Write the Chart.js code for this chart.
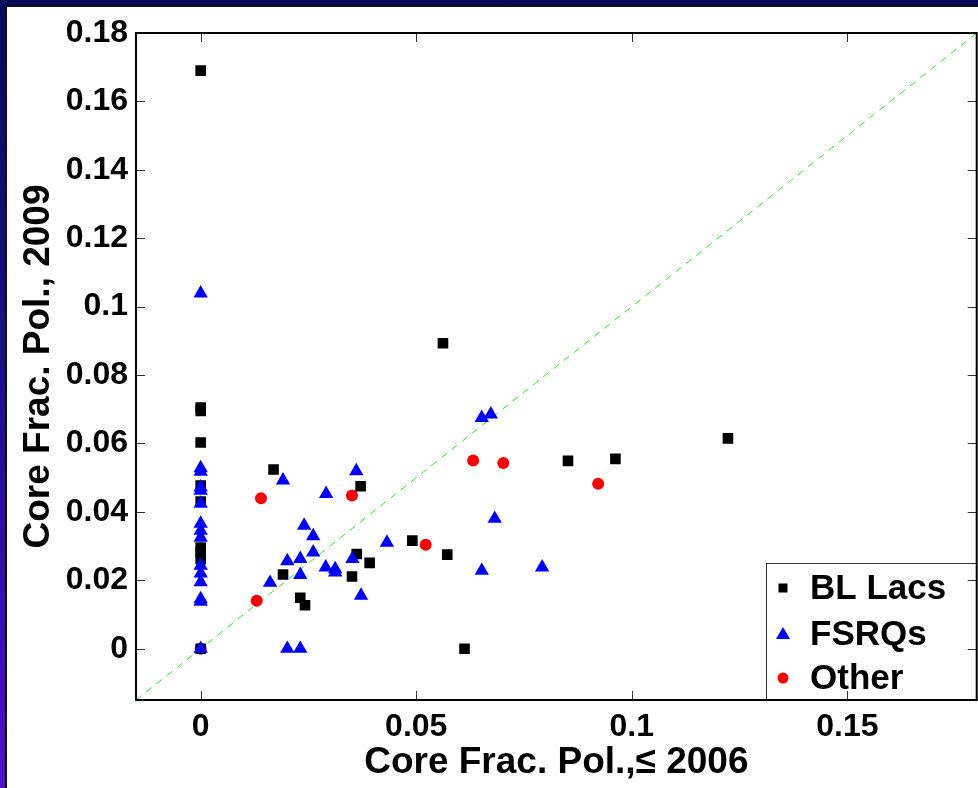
<!DOCTYPE html>
<html>
<head>
<meta charset="utf-8">
<script src="https://cdn.jsdelivr.net/npm/chart.js@4/dist/chart.umd.min.js"></script>
<style>
  html, body { margin:0; padding:0; width:978px; height:788px; overflow:hidden; }
  #bg { position:absolute; left:0; top:0; width:978px; height:788px;
        background: linear-gradient(to bottom, #070b5c 0%, #1a0e8a 45%, #3a10c0 85%, #5210c8 100%); }
  #white { position:absolute; left:5px; top:5px; width:980px; height:790px; background:#fff;
           border-left:2px solid #111; border-top:2px solid #111; }
  #wrap { position:absolute; left:0; top:0; width:985px; height:788px; }
</style>
</head>
<body>
<div id="bg"></div>
<div id="white"></div>
<div id="wrap"><canvas id="c"></canvas></div>
<script>
// ---- data ----
const seriesNames = ['BL Lacs', 'FSRQs', 'Other'];

const blLacsX = [0, 0, 0, 0, 0, 0, 0, 0, 0, 0,
  0.0169, 0.0191, 0.0231, 0.0242, 0.0351, 0.0362, 0.0371, 0.0392, 0.0491, 0.0562,
  0.0572, 0.0612, 0.0852, 0.0962, 0.1223];
const blLacsY = [0.169, 0.0705, 0.0695, 0.0603, 0.0477, 0.0430, 0.0296, 0.0282, 0.0262, 0,
  0.0524, 0.0217, 0.0149, 0.0127, 0.0211, 0.0277, 0.0475, 0.0251, 0.0316, 0.0893,
  0.0275, 0, 0.0549, 0.0555, 0.0615];

const fsrqX = [0, 0, 0, 0, 0, 0, 0, 0, 0, 0, 0, 0, 0, 0, 0,
  0.0161, 0.0191, 0.0201, 0.0201, 0.0231, 0.0231, 0.0231, 0.0240, 0.0261, 0.0261,
  0.0290, 0.0291, 0.0312, 0.0312, 0.0352, 0.0361, 0.0372, 0.0432, 0.0652, 0.0673,
  0.0652, 0.0682, 0.0792];
const fsrqY = [0.1039, 0.0528, 0.0518, 0.0472, 0.0462, 0.0424, 0.0366, 0.0345, 0.0325, 0.0243,
  0.0220, 0.0195, 0.0145, 0.0138, 0,
  0.0193, 0.0492, 0.0256, 0, 0.0263, 0.0216, 0, 0.0360, 0.0329, 0.0282,
  0.0238, 0.0453, 0.0233, 0.0223, 0.0263, 0.0519, 0.0155, 0.0310, 0.0675, 0.0685,
  0.0228, 0.0380, 0.0238];

const otherX = [0, 0.0130, 0.0140, 0.0351, 0.0522, 0.0632, 0.0702, 0.0922];
const otherY = [0, 0.0140, 0.0440, 0.0448, 0.0304, 0.0550, 0.0543, 0.0482];

// y = x reference line
const diagX = [-0.015, 0.18];
const diagY = [-0.015, 0.18];

const xTicks = [0, 0.05, 0.1, 0.15];
const xTickLabels = ['0', '0.05', '0.1', '0.15'];
const yTicks = [0, 0.02, 0.04, 0.06, 0.08, 0.1, 0.12, 0.14, 0.16, 0.18];
const yTickLabels = ['0', '0.02', '0.04', '0.06', '0.08', '0.1', '0.12', '0.14', '0.16', '0.18'];
const xRange = [-0.015, 0.18];
const yRange = [-0.015, 0.18];

const xTitle = 'Core Frac. Pol.,\u2264 2006';
const yTitle = 'Core Frac. Pol., 2009';

// ---- build ----
const pts = (xs, ys) => xs.map((x, i) => ({x, y: ys[i]}));
const FONT = "'Liberation Sans', Arial, sans-serif";
const colors = ['#000000', '#0000ff', '#ff0000'];
const styles = ['rect', 'triangle', 'circle'];
const radii = [7.5, 8.3, 6];

const frameAndTicks = {
  id: 'frameAndTicks',
  afterDraw(chart) {
    const {ctx, chartArea: a, scales: {x, y}} = chart;
    ctx.save();
    ctx.strokeStyle = '#333';
    ctx.lineWidth = 1;
    ctx.beginPath();
    xTicks.forEach(v => {
      const px = Math.round(x.getPixelForValue(v)) + 0.5;
      ctx.moveTo(px, a.bottom); ctx.lineTo(px, a.bottom - 9);
      ctx.moveTo(px, a.top); ctx.lineTo(px, a.top + 9);
    });
    yTicks.forEach(v => {
      const py = Math.round(y.getPixelForValue(v)) + 0.5;
      ctx.moveTo(a.left, py); ctx.lineTo(a.left + 9, py);
      ctx.moveTo(a.right, py); ctx.lineTo(a.right - 9, py);
    });
    ctx.stroke();
    ctx.strokeStyle = '#000';
    ctx.lineWidth = 2;
    ctx.strokeRect(a.left, a.top, a.right - a.left, a.bottom - a.top);
    ctx.restore();
  }
};

const boxLegend = {
  id: 'boxLegend',
  afterDatasetsDraw(chart) {
    const {ctx, chartArea: a} = chart;
    ctx.save();
    const bx = 766.5, by = 563.5;
    ctx.fillStyle = '#fff';
    ctx.fillRect(bx, by, a.right - bx + 10, a.bottom - by);
    ctx.strokeStyle = '#333';
    ctx.lineWidth = 1;
    ctx.strokeRect(bx, by, a.right - bx + 10, a.bottom - by);
    const rows = [588, 634, 678];
    ctx.font = 'bold 35px ' + FONT;
    ctx.textBaseline = 'middle';
    ctx.textAlign = 'left';
    seriesNames.forEach((name, i) => {
      const cy = rows[i], cx = 783;
      ctx.fillStyle = colors[i];
      ctx.beginPath();
      if (i === 0) {
        ctx.rect(cx - 4.5, cy - 4.5, 9, 9);
      } else if (i === 1) {
        ctx.moveTo(cx, cy - 7); ctx.lineTo(cx + 7, cy + 5); ctx.lineTo(cx - 7, cy + 5); ctx.closePath();
      } else {
        ctx.arc(cx, cy, 5.5, 0, Math.PI * 2);
      }
      ctx.fill();
      ctx.fillStyle = '#000';
      ctx.fillText(name, 810, cy + 1);
    });
    ctx.restore();
  }
};

const scatterSets = [[blLacsX, blLacsY], [fsrqX, fsrqY], [otherX, otherY]].map((d, i) => ({
  type: 'scatter',
  label: seriesNames[i],
  data: pts(d[0], d[1]),
  pointStyle: styles[i],
  pointRadius: radii[i],
  pointHoverRadius: radii[i],
  pointBackgroundColor: colors[i],
  pointBorderWidth: 0,
  order: [1, 0, 2][i]
}));

new Chart(document.getElementById('c'), {
  type: 'scatter',
  data: {
    datasets: [
      ...scatterSets,
      {
        type: 'line',
        label: 'y = x',
        data: pts(diagX, diagY),
        borderColor: '#2ee82e',
        borderWidth: 1,
        borderDash: [7, 6],
        pointRadius: 0,
        fill: false,
        order: 3
      }
    ]
  },
  options: {
    responsive: true,
    maintainAspectRatio: false,
    animation: false,
    devicePixelRatio: 1,
    layout: { padding: { left: 0, top: 33, right: 4, bottom: 0 } },
    plugins: { legend: { display: false }, tooltip: { enabled: false } },
    scales: {
      x: {
        type: 'linear',
        min: xRange[0], max: xRange[1],
        afterBuildTicks: s => { s.ticks = xTicks.map(v => ({value: v})); },
        afterFit: s => { s.height = 88; },
        grid: { display: false },
        border: { display: true, color: '#000', width: 2 },
        ticks: {
          color: '#000', padding: 0, maxRotation: 0, autoSkip: false,
          font: { family: FONT, size: 32, weight: 'bold' },
          callback: (v) => xTickLabels[xTicks.indexOf(v)]
        },
        title: {
          display: true, text: xTitle, color: '#000',
          font: { family: FONT, size: 37, weight: 'bold' },
          padding: { top: 0, bottom: 3 }
        }
      },
      y: {
        type: 'linear',
        min: yRange[0], max: yRange[1],
        afterBuildTicks: s => { s.ticks = yTicks.map(v => ({value: v})); },
        afterFit: s => { s.width = 136; },
        grid: { display: false },
        border: { display: true, color: '#000', width: 2 },
        ticks: {
          color: '#000', padding: 0, autoSkip: false,
          font: { family: FONT, size: 32, weight: 'bold' },
          callback: (v) => yTickLabels[yTicks.indexOf(v)]
        },
        title: {
          display: true, text: yTitle, color: '#000',
          font: { family: FONT, size: 37, weight: 'bold' },
          padding: { top: 17, bottom: 0 }
        }
      }
    }
  },
  plugins: [boxLegend, frameAndTicks]
});
</script>
</body>
</html>
